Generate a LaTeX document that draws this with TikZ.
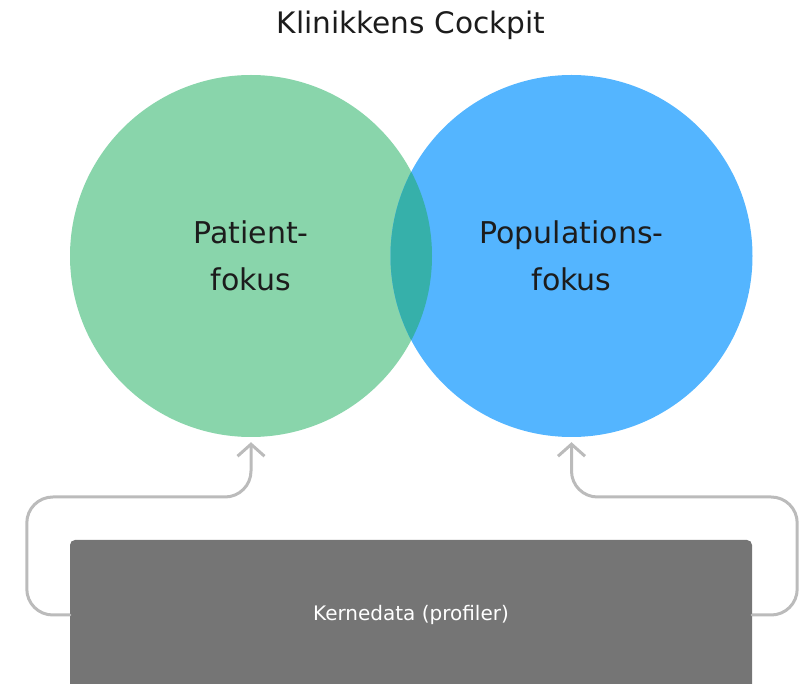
\documentclass[tikz,border=0pt]{standalone}
\usepackage{fontspec}
\setmainfont{DejaVu Sans}
\usepackage{tikz}
\usetikzlibrary{arrows.meta}

\definecolor{patientgreen}{HTML}{89D5AB}
\definecolor{popblue}{HTML}{54B5FF}
\definecolor{overlapteal}{HTML}{36B0AA}
\definecolor{kernegray}{HTML}{757575}
\definecolor{flowgray}{HTML}{BBBBBB}
\definecolor{inktext}{HTML}{1C1C1C}

\begin{document}
\begin{tikzpicture}[line cap=round,line join=round,x=1pt,y=-1pt,
        venn/.style={circle,minimum size=362pt,inner sep=0pt,align=center,text=inktext,font=\fontsize{30}{47}\selectfont},
        flow/.style={draw=flowgray,line width=3pt,rounded corners=26pt,shorten >=5pt,-{Straight Barb[length=12pt,width=27pt]}}]
        \clip (0,0) rectangle (807,684);
        \node[anchor=base,text=inktext,font=\fontsize{29.6}{36}\selectfont] (title) at (411,34) {Klinikkens Cockpit};
        \node[venn,fill=patientgreen] (patient) at (251,256) {Patient-\\fokus};
        \node[venn,fill=popblue] (population) at (571.5,256) {Populations-\\fokus};
        \begin{scope}
            \clip (patient.center) circle [radius=181pt];
            \fill[overlapteal] (population.center) circle [radius=181pt];
        \end{scope}
        \node[fill=kernegray,rounded corners=5pt,minimum width=682pt,minimum height=150pt,text=white,font=\fontsize{20}{24}\selectfont] (kerne) at (411,615) {Kernedata (profiler)};
        \draw[flow] (kerne.west) -- ++(-43,0) -- ++(0,-118) -| (patient.south);
        \draw[flow] (kerne.east) -- ++(45,0) -- ++(0,-118) -| (population.south);
    \end{tikzpicture}
\end{document}
